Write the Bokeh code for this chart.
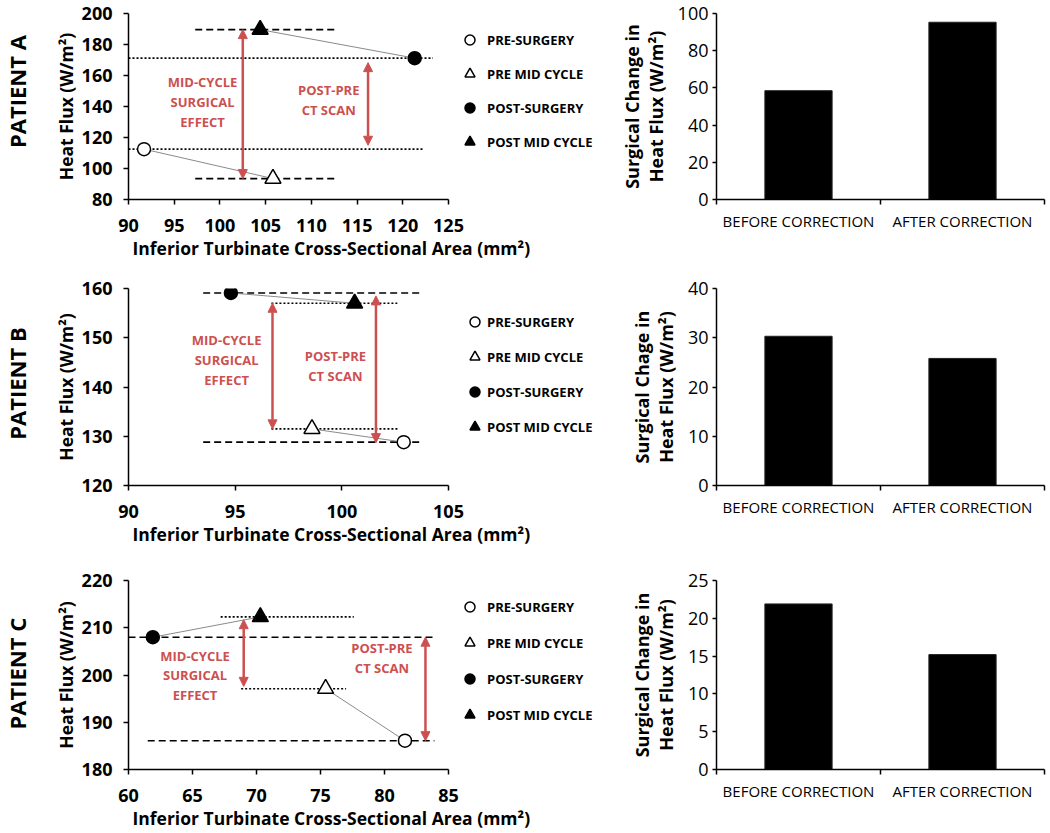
import math
from bokeh.plotting import figure
from bokeh.layouts import column, row
from bokeh.models import Range1d, FixedTicker, Legend, LegendItem, Arrow, NormalHead, Title
from bokeh.core.properties import value
from bokeh.embed import file_html
from bokeh.resources import INLINE

FONT = "Open Sans"
RED = "#CC5050"

# ---------------- data ----------------
patients = ["PATIENT A", "PATIENT B", "PATIENT C"]
series_names = ["PRE-SURGERY", "PRE MID CYCLE", "POST-SURGERY", "POST MID CYCLE"]

# inferior turbinate cross-sectional area (mm²) and heat flux (W/m²)
a_area = [91.7, 105.8, 121.3, 104.4]
a_flux = [112.5, 93.5, 171.2, 189.6]
b_area = [102.9, 98.6, 94.8, 100.6]
b_flux = [128.8, 131.5, 159.1, 157.0]
c_area = [81.6, 75.4, 61.9, 70.3]
c_flux = [186.1, 197.1, 208.0, 212.3]

a_xticks = [90, 95, 100, 105, 110, 115, 120, 125]
a_yticks = [80, 100, 120, 140, 160, 180, 200]
b_xticks = [90, 95, 100, 105]
b_yticks = [120, 130, 140, 150, 160]
c_xticks = [60, 65, 70, 75, 80, 85]
c_yticks = [180, 190, 200, 210, 220]

bar_categories = ["BEFORE CORRECTION", "AFTER CORRECTION"]
a_change = [58.5, 95.3]
b_change = [30.3, 25.8]
c_change = [21.9, 15.2]
a_bar_ticks = [0, 20, 40, 60, 80, 100]
b_bar_ticks = [0, 10, 20, 30, 40]
c_bar_ticks = [0, 5, 10, 15, 20, 25]

# marker style per series: (marker, fill, size)
styles = [("circle", "white", 13), ("triangle", "white", 16),
          ("circle", "black", 13), ("triangle", "black", 16)]

LABEL_W = 32
SCATTER_W = 612 - LABEL_W
BAR_W = 436
FRAME_LEFT = 128        # page x of scatter plot area
AXIS_LEN = 320          # pixel length of scatter x axis
SC_LEFT = FRAME_LEFT - LABEL_W
SC_FRAME_W = SCATTER_W - SC_LEFT


def style_axes(p, tick_size, label_size, bold_ticks=True):
    for ax in (p.xaxis[0], p.yaxis[0]):
        ax.axis_line_width = 1.5
        ax.axis_line_color = "black"
        ax.major_tick_line_width = 1.5
        ax.major_tick_line_color = "black"
        ax.major_tick_out = 5
        ax.major_tick_in = 0
        ax.minor_tick_line_color = None
        ax.major_label_text_font = FONT
        ax.major_label_text_font_size = tick_size
        ax.major_label_text_font_style = "bold" if bold_ticks else "normal"
        ax.major_label_text_color = "black"
        ax.axis_label_text_font = FONT
        ax.axis_label_text_font_size = label_size
        ax.axis_label_text_font_style = "bold"
        ax.axis_label_text_color = "black"


def label_panel(text, h, y_from_top):
    p = figure(width=LABEL_W, height=h, x_range=Range1d(0, LABEL_W), y_range=Range1d(0, h),
               output_backend="svg", toolbar_location=None, title=None,
               x_axis_type=None, y_axis_type=None,
               min_border_left=0, min_border_right=0, min_border_top=0, min_border_bottom=0)
    p.outline_line_color = None
    p.grid.visible = False
    p.text(x=[LABEL_W / 2], y=[h - y_from_top], text=[text], angle=math.pi / 2,
           text_align="center", text_baseline="middle", text_font=value(FONT),
           text_font_style="bold", text_font_size="22px", text_color="black")
    return p


def scatter_panel(area, flux, xr, yr, xticks, yticks, refs, arrows, texts,
                  h, bt, bb, leg_loc, leg_spacing, leg_standoff):
    # plot area extends right to host the legend; the x axis itself is bounded to xr
    x_end = xr[0] + SC_FRAME_W * (xr[1] - xr[0]) / AXIS_LEN
    p = figure(width=SCATTER_W, height=h, x_range=Range1d(xr[0], x_end), y_range=Range1d(*yr),
               output_backend="svg", toolbar_location=None, title=None,
               min_border_left=SC_LEFT, min_border_right=0,
               min_border_top=bt, min_border_bottom=bb)
    p.outline_line_color = None
    p.grid.visible = False
    style_axes(p, "18px", "17.5px")
    p.xaxis.bounds = xr
    p.xaxis.ticker = FixedTicker(ticks=xticks)
    p.yaxis.ticker = FixedTicker(ticks=yticks)
    p.yaxis.axis_label = "Heat Flux (W/m²)"
    p.xaxis.major_label_standoff = 14
    p.yaxis.major_label_standoff = 11
    p.yaxis.axis_label_standoff = 1
    p.add_layout(Title(text="Inferior Turbinate Cross-Sectional Area (mm²)", align="left",
                       offset=4, standoff=2, vertical_align="top", text_font=FONT,
                       text_font_size="17.5px", text_font_style="bold",
                       text_color="black"), "below")

    # horizontal reference lines at series values
    for idx, x0, x1, kind in refs:
        p.segment(x0=[x0], y0=[flux[idx]], x1=[x1], y1=[flux[idx]], line_color="black",
                  line_width=1.6, line_dash="7 4" if kind == "dash" else "2 2")
    # connectors
    p.line(x=[area[0], area[1]], y=[flux[0], flux[1]], line_color="#8a8a8a", line_width=1)
    p.line(x=[area[3], area[2]], y=[flux[3], flux[2]], line_color="#8a8a8a", line_width=1)

    items = []
    for i, name in enumerate(series_names):
        mk, fill, sz = styles[i]
        r = p.scatter(x=[area[i]], y=[flux[i]], marker=mk, size=sz, fill_color=fill,
                      line_color="black", line_width=1.5)
        items.append(LegendItem(label=name, renderers=[r]))

    for xa, i0, i1 in arrows:
        y0 = flux[i0] if isinstance(i0, int) else i0[0]
        y1 = flux[i1] if isinstance(i1, int) else i1[0]
        p.add_layout(Arrow(x_start=xa, y_start=y0, x_end=xa, y_end=y1,
                           start=NormalHead(size=9, fill_color=RED, line_color=RED),
                           end=NormalHead(size=9, fill_color=RED, line_color=RED),
                           line_color=RED, line_width=2.5))
    for tx, ty, tt in texts:
        p.text(x=[tx], y=[ty], text=[tt], text_align="center", text_baseline="middle",
               text_font=value(FONT), text_font_style="bold", text_font_size="13px",
               text_color=RED, text_line_height=1.1)

    legend = Legend(items=items, location=leg_loc, padding=0, spacing=leg_spacing,
                    glyph_width=25, glyph_height=25, label_height=25,
                    label_standoff=leg_standoff, label_text_font=FONT,
                    label_text_font_size="13px", label_text_font_style="bold",
                    label_text_color="black", border_line_color=None,
                    background_fill_alpha=0, margin=0)
    p.add_layout(legend)
    return p


def bar_panel(values, yticks, ylabel, h, bt, bb):
    xs = [i + 0.5 for i in range(len(bar_categories))]
    p = figure(width=BAR_W, height=h, x_range=Range1d(0, len(bar_categories)),
               y_range=Range1d(yticks[0], yticks[-1]),
               output_backend="svg", toolbar_location=None, title=None,
               min_border_left=716 - LABEL_W - SCATTER_W, min_border_right=4,
               min_border_top=bt, min_border_bottom=bb)
    p.outline_line_color = None
    p.grid.visible = False
    p.vbar(x=xs, top=values, width=0.41, fill_color="black", line_color="#222222")
    style_axes(p, "18px", "18px", bold_ticks=False)
    p.yaxis.ticker = FixedTicker(ticks=yticks)
    p.yaxis.major_tick_out = 4
    p.yaxis.major_label_standoff = 4
    p.yaxis.axis_label = ylabel
    p.yaxis.axis_label_standoff = 7
    p.yaxis.axis_label_text_line_height = 1.0
    p.xaxis.ticker = FixedTicker(ticks=xs, minor_ticks=list(range(len(bar_categories) + 1)))
    p.xaxis.major_label_overrides = {x: c for x, c in zip(xs, bar_categories)}
    p.xaxis.major_tick_line_color = None
    p.xaxis.major_tick_out = 0
    p.xaxis.minor_tick_line_color = "black"
    p.xaxis.minor_tick_line_width = 1.5
    p.xaxis.minor_tick_out = 5
    p.xaxis.minor_tick_in = 0
    p.xaxis.major_label_text_font_size = "15px"
    p.xaxis.major_label_standoff = 6
    return p


mid_txt = "MID-CYCLE\nSURGICAL\nEFFECT"
pp_txt = "POST-PRE\nCT SCAN"

HA, HB, HC = 262, 286, 284

lA = label_panel(patients[0], HA, 110)
sA = scatter_panel(a_area, a_flux, (90, 125), (80, 200), a_xticks, a_yticks,
                   refs=[(3, 97.3, 112.9, "dash"), (2, 90, 123.3, "dot"),
                         (0, 90, 122.2, "dot"), (1, 97.3, 112.9, "dash")],
                   arrows=[(102.5, 3, 1), (116.2, (168.3,), (115.0,))],
                   texts=[(98.1, 143, mid_txt), (111.9, 144, pp_txt)],
                   h=HA, bt=13, bb=62, leg_loc=(329, 45), leg_spacing=9, leg_standoff=5)
bA = bar_panel(a_change, a_bar_ticks, "Surgical Change in\nHeat Flux (W/m²)", h=HA, bt=13, bb=62)

lB = label_panel(patients[1], HB, 138)
sB = scatter_panel(b_area, b_flux, (90, 105), (120, 160), b_xticks, b_yticks,
                   refs=[(2, 93.5, 103.7, "dash"), (3, 96.7, 102.6, "dot"),
                         (1, 96.7, 102.65, "dot"), (0, 93.5, 103.7, "dash")],
                   arrows=[(96.75, 3, 1), (101.6, (158.5,), (128.7,))],
                   texts=[(94.6, 145.5, mid_txt), (99.7, 144.3, pp_txt)],
                   h=HB, bt=26, bb=62, leg_loc=(334, 46), leg_spacing=10, leg_standoff=-3)
bB = bar_panel(b_change, b_bar_ticks, "Surgical Chage in\nHeat Flux (W/m²)", h=HB, bt=26, bb=62)

lC = label_panel(patients[2], HC, 140)
sC = scatter_panel(c_area, c_flux, (60, 85), (180, 220), c_xticks, c_yticks,
                   refs=[(3, 67.2, 77.6, "dot"), (2, 60, 83.9, "dash"),
                         (1, 68.8, 77.0, "dot"), (0, 61.5, 83.9, "dash")],
                   arrows=[(69.0, (211.7,), (197.6,)), (83.2, 2, 0)],
                   texts=[(65.2, 199.9, mid_txt), (79.8, 203.6, pp_txt)],
                   h=HC, bt=32, bb=63, leg_loc=(329, 42), leg_spacing=11, leg_standoff=5)
bC = bar_panel(c_change, c_bar_ticks, "Surgical Change in\nHeat Flux (W/m²)", h=HC, bt=32, bb=63)

layout = column(row(lA, sA, bA), row(lB, sB, bB), row(lC, sC, bC))
open("out.html", "w").write(file_html(layout, INLINE))
